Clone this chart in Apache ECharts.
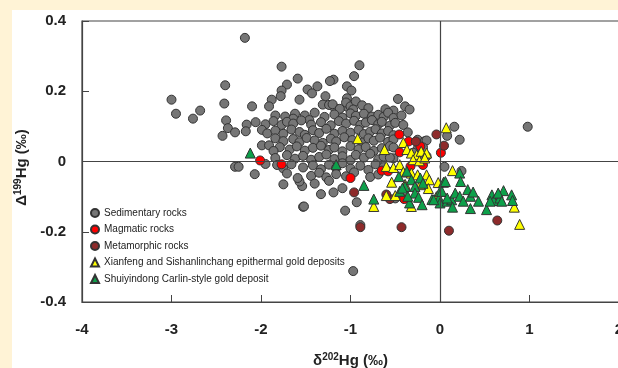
<!DOCTYPE html>
<html>
<head>
<meta charset="utf-8">
<script src="https://cdn.jsdelivr.net/npm/echarts@6/dist/echarts.min.js"></script>
<style>
html,body{margin:0;padding:0;background:#fff3d6;}
#chart{width:618px;height:368px;}
</style>
</head>
<body>
<div id="chart"></div>
<script>
// δ202Hg (x) / Δ199Hg (y) pairs
var sedimentary = [
  [-2.18,0.352],[-3.00,0.176],[-2.95,0.136],[-2.76,0.122],[-2.68,0.145],[-2.40,0.217],[-2.41,0.165],[-2.39,0.117],
  [-2.43,0.073],[-2.37,0.095],[-2.29,0.083],[-2.16,0.105],[-2.17,0.086],[-2.10,0.157],[-2.29,-0.015],[-2.25,-0.015],
  [-2.07,-0.036],[-1.99,0.046],[-1.91,0.046],[-1.95,-0.007],[-1.77,0.270],[-1.71,0.219],[-1.59,0.236],[-1.57,0.176],
  [-1.77,0.202],[-1.88,0.176],[-1.91,0.157],[-1.78,0.186],[-1.48,0.205],[-1.37,0.214],[-1.28,0.186],[-1.19,0.233],
  [-1.23,0.229],[-0.90,0.274],[-0.96,0.243],[-1.04,0.214],[-0.99,0.202],[-1.31,0.162],[-1.19,0.156],[-0.47,0.178],
  [-0.39,0.157],[-0.34,0.148],[0.16,0.099],[0.22,0.062],[0.08,0.073],[0.98,0.099],[0.05,-0.015],[0.24,-0.027],
  [-1.53,-0.129],[-1.06,-0.140],[-0.89,-0.181],[-0.97,-0.312],[-1.33,-0.093],[-1.19,-0.088],[-1.09,-0.076],[-1.54,-0.070],
  [-1.57,-0.057],[-1.75,-0.065],[-0.93,-0.116],[-0.50,-0.105],[-1.43,0.194],[-1.04,0.180],[-1.04,0.156],[-1.24,0.161],
  [-1.20,0.163],[-1.05,0.168],[-1.00,0.157],[-0.94,0.171],[-0.87,0.160],[-0.80,0.152],[-0.61,0.149],[-0.52,0.145],
  [-1.12,0.150],[-0.97,0.148],
  [-1.84,0.131],[-1.73,0.128],[-1.62,0.136],[-1.51,0.131],[-1.40,0.139],[-1.29,0.127],[-1.18,0.134],[-1.09,0.125],
  [-1.00,0.137],[-0.94,0.130],[-0.85,0.136],[-0.76,0.128],[-0.69,0.133],[-0.63,0.127],[-0.58,0.139],[-0.52,0.124],
  [-0.43,0.131],[-1.64,0.122],[-1.46,0.118],
  [-2.06,0.112],[-1.95,0.106],[-1.86,0.115],[-1.77,0.104],[-1.71,0.113],[-1.64,0.108],[-1.55,0.117],[-1.44,0.105],
  [-1.33,0.112],[-1.22,0.103],[-1.13,0.115],[-1.05,0.108],[-0.96,0.116],[-0.89,0.104],[-0.83,0.111],[-0.76,0.118],
  [-0.69,0.106],[-0.65,0.113],[-0.56,0.102],[-0.50,0.110],[-0.41,0.104],
  [-1.99,0.090],[-1.93,0.080],[-1.84,0.088],[-1.75,0.079],[-1.66,0.091],[-1.57,0.084],[-1.51,0.076],[-1.42,0.089],
  [-1.35,0.081],[-1.27,0.093],[-1.18,0.079],[-1.09,0.087],[-1.00,0.082],[-0.91,0.090],[-0.85,0.078],[-0.78,0.085],
  [-0.72,0.092],[-0.65,0.080],[-0.58,0.087],[-0.52,0.075],[-0.36,0.083],
  [-1.84,0.066],[-1.75,0.058],[-1.64,0.064],[-1.57,0.055],[-1.49,0.067],[-1.40,0.060],[-1.31,0.053],[-1.22,0.065],
  [-1.16,0.057],[-1.07,0.069],[-0.98,0.061],[-0.87,0.054],[-0.80,0.066],[-0.74,0.059],[-0.67,0.068],[-0.58,0.056],
  [-0.52,0.063],[-0.25,0.062],[-0.17,0.058],
  [-1.79,0.041],[-1.68,0.034],[-1.60,0.043],[-1.51,0.031],[-1.42,0.039],[-1.33,0.045],[-1.24,0.033],[-1.18,0.040],
  [-1.09,0.029],[-1.00,0.044],[-0.91,0.035],[-0.83,0.041],[-0.74,0.030],[-0.65,0.038],[-0.56,0.044],[-0.25,0.036],
  [-1.86,0.030],
  [-1.84,0.010],[-1.71,0.018],[-1.62,0.008],[-1.53,0.016],[-1.44,0.005],[-1.35,0.013],[-1.27,0.020],[-1.18,0.007],
  [-1.09,0.015],[-1.00,0.004],[-0.94,0.019],[-0.85,0.011],[-0.78,0.022],[-0.69,0.006],[-0.63,0.014],[-0.52,0.009],
  [-1.82,-0.010],[-1.75,-0.020],[-1.66,-0.008],[-1.53,-0.017],[-1.42,-0.011],[-1.33,-0.022],[-1.24,-0.009],[-1.16,-0.018],
  [-1.09,-0.005],[-1.00,-0.020],[-0.89,-0.012],[-0.80,-0.024],[-0.72,-0.008],[-0.63,-0.016],
  [-1.71,-0.034],[-1.44,-0.041],[-1.35,-0.032],[-1.27,-0.045],[-1.16,-0.036],[-1.05,-0.042],[-0.96,-0.031],[-0.78,-0.044],
  [-0.69,-0.037],[-1.40,-0.063],[-1.24,-0.055],[-1.59,-0.047],[-1.52,-0.128],
  [-0.15,0.060],[-0.19,0.040],[-0.30,0.025],[-0.15,0.015],[-0.52,0.040],[-0.56,0.011]
];
var magmatic = [
  [-2.01,0.003],[-1.77,-0.008],[-1.00,-0.047],[-0.455,0.077],[-0.35,0.057],[-0.45,0.026],[-0.22,0.043],[0.01,0.025],
  [-0.65,-0.026],[-0.58,-0.028],[-0.40,-0.107],[-0.33,-0.014],[-0.19,-0.010]
];
var metamorphic = [
  [-0.04,0.077],[0.045,0.045],[-0.27,0.057],[-0.96,-0.088],[-0.89,-0.187],[-0.43,-0.187],[0.10,-0.197],[0.64,-0.168],
  [-0.56,-0.107],[-0.60,-0.094]
];
var xianfeng = [
  [-0.92,0.065],[-0.62,0.034],[-0.41,0.054],[-0.37,0.034],[-0.32,0.024],[-0.26,0.019],[-0.21,0.029],[-0.15,0.024],
  [-0.30,0.005],[-0.23,0.002],[-0.17,0.010],[-0.60,-0.014],[-0.52,-0.017],[-0.45,-0.009],[-0.41,-0.030],[-0.32,-0.033],
  [-0.25,-0.038],[-0.15,-0.038],[-0.12,-0.052],[-0.54,-0.059],[-0.39,-0.065],[-0.22,-0.066],[-0.13,-0.077],[-0.02,-0.060],
  [0.07,0.096],[0.14,-0.026],[-0.60,-0.097],[-0.50,-0.097],[-0.74,-0.128],[-0.32,-0.128],[0.83,-0.130],[0.89,-0.179],
  [-0.04,-0.100]
];
var shuiyindong = [
  [-2.12,0.024],[-1.16,-0.009],[-0.85,-0.068],[-0.74,-0.107],[-0.46,-0.043],[-0.37,-0.028],[-0.39,-0.071],[-0.32,-0.052],
  [-0.28,-0.071],[-0.22,-0.047],[-0.19,-0.062],[-0.28,-0.090],[-0.24,-0.102],[-0.34,-0.118],[-0.20,-0.123],[-0.36,-0.099],
  [-0.09,-0.108],[-0.01,-0.104],[0.00,-0.085],[0.04,-0.059],[0.00,-0.118],[0.08,-0.113],[-0.45,-0.085],[-0.42,-0.076],
  [0.06,-0.057],[0.22,-0.033],[0.23,-0.057],[0.02,-0.085],[-0.07,-0.109],[0.13,-0.109],[0.17,-0.090],[0.22,-0.099],
  [0.26,-0.113],[0.31,-0.080],[0.34,-0.099],[0.37,-0.087],[0.43,-0.113],[0.34,-0.134],[0.14,-0.130],[0.52,-0.137],
  [0.58,-0.095],[0.60,-0.111],[0.67,-0.104],[0.71,-0.083],[0.65,-0.090],[0.80,-0.095],[0.81,-0.111],[0.56,-0.113],
  [0.69,-0.113],[0.08,-0.104]
];
var xTicks = [-4, 2, 1];      // min, max, interval
var yTicks = [-0.4, 0.4, 0.2];

var chart = echarts.init(document.getElementById('chart'));
var border = '#333';
var labelFont = {fontFamily: 'Liberation Sans, Arial', fontWeight: 'bold', fontSize: 15, color: '#222'};
var nameRich = {
  d: {fontFamily: 'Liberation Sans', fontWeight: 'bold', fontSize: 15, color: '#222'},
  s: {fontFamily: 'Liberation Sans', fontWeight: 'bold', fontSize: 10, color: '#222', padding: [0, 0, 7, 0]}
};

chart.setOption({
  backgroundColor: '#fff3d6',
  animation: false,
  graphic: [{
    type: 'rect', z: -10, silent: true,
    shape: {x: 12, y: 10, width: 606, height: 358},
    style: {fill: '#ffffff'}
  }],
  grid: {
    left: 82, top: 21, width: 537, height: 281, outerBoundsMode: 'none', containLabel: false,
    show: true, borderColor: '#444', borderWidth: 1.2, backgroundColor: 'transparent'
  },
  legend: {
    orient: 'vertical', left: 90, top: 207, padding: 0, itemGap: 4.5, itemWidth: 8, itemHeight: 8,
    textStyle: {fontFamily: 'Liberation Sans, Arial', fontSize: 10, color: '#222', lineHeight: 12},
    data: [
      {name: 'Sedimentary rocks', icon: 'circle'},
      {name: 'Magmatic rocks', icon: 'circle'},
      {name: 'Metamorphic rocks', icon: 'circle'},
      {name: 'Xianfeng and Sishanlinchang epithermal gold deposits', icon: 'triangle'},
      {name: 'Shuiyindong Carlin-style gold deposit', icon: 'triangle'}
    ]
  },
  xAxis: {
    type: 'value', min: xTicks[0], max: xTicks[1], interval: xTicks[2],
    name: '{d|δ}{s|202}{d|Hg (‰)}', nameLocation: 'middle', nameGap: 50,
    nameTextStyle: {rich: nameRich},
    axisLine: {onZero: false, lineStyle: {color: '#444', width: 1.2}},
    axisTick: {inside: true, length: 7, lineStyle: {color: '#444'}},
    axisLabel: Object.assign({margin: 20}, labelFont),
    splitLine: {show: false}
  },
  yAxis: {
    type: 'value', min: yTicks[0], max: yTicks[1], interval: yTicks[2],
    name: '{d|Δ}{s|199}{d|Hg (‰)}', nameLocation: 'middle', nameGap: 39, nameRotate: 90,
    nameTextStyle: {rich: nameRich, padding: [0, 12, 0, 0]},
    axisLine: {onZero: false, lineStyle: {color: '#444', width: 1.2}},
    axisTick: {inside: true, length: 7, lineStyle: {color: '#444'}},
    axisLabel: Object.assign({margin: 16}, labelFont),
    splitLine: {show: false}
  },
  series: [
    {
      type: 'scatter', name: 'zero', data: [], z: 1, silent: true,
      markLine: {
        silent: true, symbol: 'none', label: {show: false},
        lineStyle: {color: '#444', width: 1.2, type: 'solid'},
        data: [{xAxis: 0}, {yAxis: 0}]
      }
    },
    {name: 'Sedimentary rocks', type: 'scatter', symbol: 'circle', symbolSize: 9, data: sedimentary,
      itemStyle: {color: '#767676', borderColor: border, borderWidth: 1, opacity: 1}},
    {name: 'Magmatic rocks', type: 'scatter', symbol: 'circle', symbolSize: 9, data: magmatic,
      itemStyle: {color: '#ff0000', borderColor: border, borderWidth: 1, opacity: 1}},
    {name: 'Metamorphic rocks', type: 'scatter', symbol: 'circle', symbolSize: 9, data: metamorphic,
      itemStyle: {color: '#8e2b2b', borderColor: border, borderWidth: 1, opacity: 1}},
    {name: 'Xianfeng and Sishanlinchang epithermal gold deposits', type: 'scatter', symbol: 'triangle', symbolSize: 10, data: xianfeng,
      itemStyle: {color: '#ffff00', borderColor: border, borderWidth: 1, opacity: 1}},
    {name: 'Shuiyindong Carlin-style gold deposit', type: 'scatter', symbol: 'triangle', symbolSize: 10, data: shuiyindong,
      itemStyle: {color: '#0da04a', borderColor: border, borderWidth: 1, opacity: 1}}
  ]
});
</script>
</body>
</html>
